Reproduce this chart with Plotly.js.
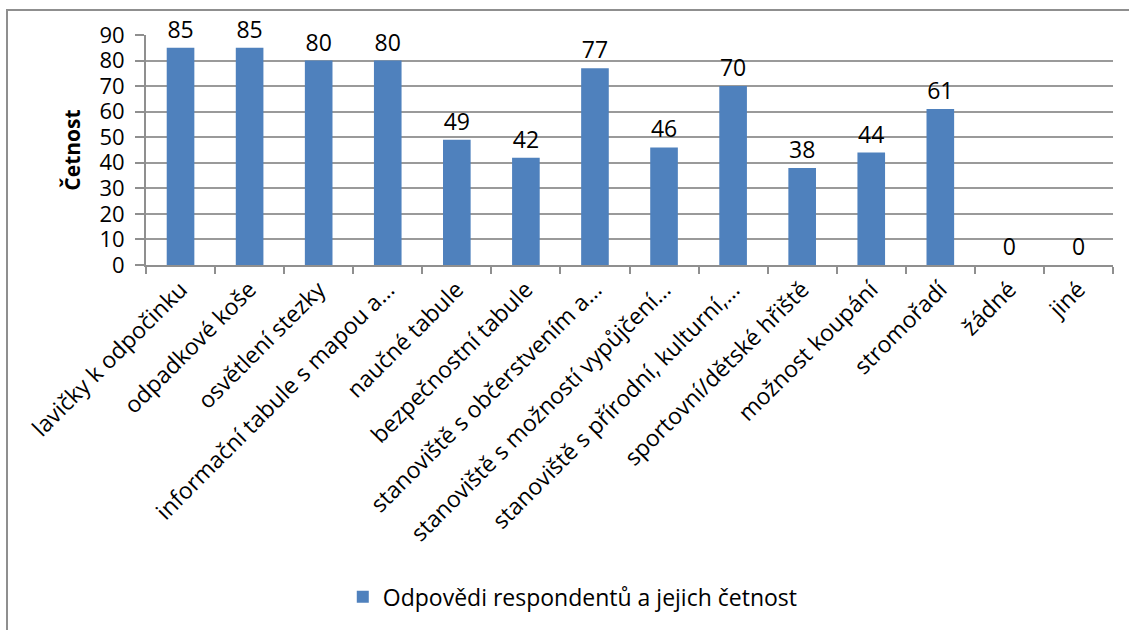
<!DOCTYPE html>
<html>
<head>
<meta charset="utf-8">
<script src="https://cdn.plot.ly/plotly-3.0.1.min.js"></script>
<style>
html,body{margin:0;padding:0;background:#fff;overflow:hidden;}
#chart{position:absolute;left:0;top:0;width:1129px;height:630px;}
#frame{position:absolute;left:6px;top:9px;width:1200px;height:700px;border-left:2px solid #8f8f8f;border-top:2px solid #8f8f8f;pointer-events:none;}
</style>
</head>
<body>
<div id="chart"></div>
<div id="frame"></div>
<script>
const categories = [
  "lavičky k odpočinku",
  "odpadkové koše",
  "osvětlení stezky",
  "informační tabule s mapou a…",
  "naučné tabule",
  "bezpečnostní tabule",
  "stanoviště s občerstvením a…",
  "stanoviště s možností vypůjčení…",
  "stanoviště s přírodní, kulturní,…",
  "sportovní/dětské hřiště",
  "možnost koupání",
  "stromořadí",
  "žádné",
  "jiné"
];
const values = [85, 85, 80, 80, 49, 42, 77, 46, 70, 38, 44, 61, 0, 0];
const seriesName = "Odpovědi respondentů a jejich četnost";
const yTicks = [0, 10, 20, 30, 40, 50, 60, 70, 80, 90];

const font = "'Open Sans', 'Noto Sans', sans-serif";

const trace = {
  type: "bar",
  x: categories,
  y: values,
  name: seriesName,
  marker: {color: "#4f81bd"},
  text: values.map(String),
  textposition: "outside",
  cliponaxis: false,
  textfont: {family: font, size: 23, color: "#000"},
  width: 0.4
};

const layout = {
  width: 1129,
  height: 630,
  margin: {l: 146, r: 16, t: 35, b: 365},
  paper_bgcolor: "#fff",
  plot_bgcolor: "#fff",
  font: {family: font, color: "#000"},
  showlegend: true,
  legend: {
    orientation: "h",
    x: 0.2035, xanchor: "left",
    y: -1.443, yanchor: "middle",
    font: {family: font, size: 23, color: "#000"},
    itemwidth: 30
  },
  xaxis: {
    type: "category",
    tickangle: -45,
    tickfont: {family: font, size: 23, color: "#000"},
    ticks: "outside",
    tickson: "boundaries",
    ticklen: 7,
    tickcolor: "#8f8f8f",
    tickwidth: 2,
    showline: true,
    linecolor: "#8f8f8f",
    linewidth: 2,
    showgrid: false,
    fixedrange: true
  },
  yaxis: {
    range: [0, 90],
    tickvals: yTicks,
    ticktext: yTicks.map(String),
    tickfont: {family: font, size: 22, color: "#000"},
    ticks: "outside",
    ticklen: 9,
    ticklabelstandoff: 6,
    tickcolor: "#8f8f8f",
    tickwidth: 2,
    showline: true,
    linecolor: "#8f8f8f",
    linewidth: 2,
    showgrid: true,
    gridcolor: "#9a9a9a",
    gridwidth: 2,
    zeroline: false,
    title: {text: "<b>Četnost</b>", font: {family: font, size: 21, color: "#000"}, standoff: 13},
    fixedrange: true
  },
  bargap: 0.6
};

Plotly.newPlot("chart", [trace], layout, {displayModeBar: false, staticPlot: true});
</script>
</body>
</html>
